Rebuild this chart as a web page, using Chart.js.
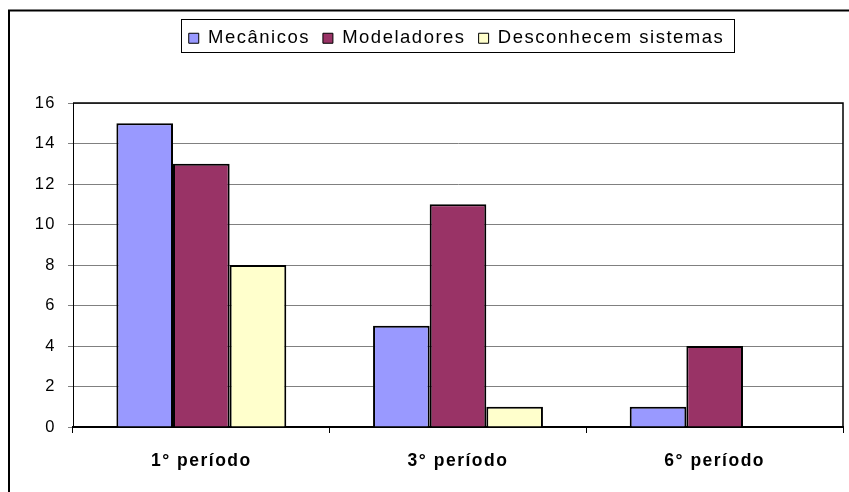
<!DOCTYPE html>
<html><head><meta charset="utf-8">
<script src="https://cdn.jsdelivr.net/npm/chart.js@4"></script>
<style>html,body{margin:0;padding:0;background:#fff;}#wrap{width:849px;height:492px;}</style>
</head><body><div id="wrap"><canvas id="c" width="849" height="492"></canvas></div>
<script>
const categories = ["1° período", "3° período", "6° período"];
const mecanicos = [15, 5, 1];
const modeladores = [13, 11, 4];
const desconhecem = [8, 1, 0];
const seriesNames = ["Mecânicos", "Modeladores", "Desconhecem sistemas"];
const yTicks = [0, 2, 4, 6, 8, 10, 12, 14, 16];

Chart.defaults.font.family = 'Liberation Sans, Arial, sans-serif';

const SPACING = '1.5px';
const frame = {
  id: 'frame',
  afterInit(chart) {
    const lg = chart.legend;
    if (lg) {
      const f = lg.fit.bind(lg);
      lg.fit = function () { f(); this.height += 45.5; };
    }
  },
  beforeUpdate(chart) { chart.ctx.letterSpacing = SPACING; },
  afterLayout(chart) {
    const lg = chart.legend;
    if (lg) { lg.left += 25; lg.right += 25; }
  },
  beforeDraw(chart) {
    const c = chart.ctx;
    c.letterSpacing = SPACING;
    c.save();
    c.fillStyle = '#fff';
    c.fillRect(0, 0, chart.width, chart.height);
    c.strokeStyle = '#000';
    c.lineWidth = 2;
    c.strokeRect(9, 10.5, 900, 600);
    c.restore();
  },
  afterDraw(chart) {
    const c = chart.ctx;
    const a = chart.chartArea;
    c.save();
    c.strokeStyle = '#000';
    c.lineWidth = 1.5;
    c.beginPath();
    c.moveTo(a.left, a.top);
    c.lineTo(a.right, a.top);
    c.lineTo(a.right, a.bottom);
    c.stroke();
    const lg = chart.legend;
    if (lg && lg.lineWidths && lg.lineWidths.length) {
      const rowW = lg.lineWidths[0];
      const cx = (lg.left + lg.right) / 2;
      const x0 = cx - rowW / 2;
      c.lineWidth = 1;
      c.strokeStyle = '#000';
      c.strokeRect(Math.round(x0 - 1) + 0.5, 19.5, Math.round(rowW + 4), 33);
    }
    c.restore();
  }
};

new Chart(document.getElementById('c'), {
  type: 'bar',
  data: {
    labels: categories,
    datasets: [
      { label: seriesNames[0], data: mecanicos, backgroundColor: '#9999FF', borderColor: '#000', borderWidth: 2 },
      { label: seriesNames[1], data: modeladores, backgroundColor: '#993366', borderColor: '#000', borderWidth: 2 },
      { label: seriesNames[2], data: desconhecem, backgroundColor: '#FFFFCC', borderColor: '#000', borderWidth: 2 }
    ]
  },
  options: {
    responsive: false,
    animation: false,
    devicePixelRatio: 1,
    categoryPercentage: 0.662,
    barPercentage: 1,
    layout: { padding: { left: 20, right: 6, top: 16, bottom: 0 } },
    plugins: {
      tooltip: { enabled: false },
      legend: {
        position: 'top',
        labels: {
          font: { size: 18.5 },
          color: '#000',
          boxWidth: 10,
          boxHeight: 10,
          padding: 13,
          generateLabels(chart) {
            return chart.data.datasets.map((d, i) => ({
              text: d.label, fillStyle: d.backgroundColor, strokeStyle: '#000', lineWidth: 1, datasetIndex: i, hidden: false
            }));
          }
        }
      }
    },
    scales: {
      x: {
        offset: true,
        grid: { offset: true, drawOnChartArea: false, drawTicks: true, tickLength: 6, color: '#000' },
        border: { color: '#000', width: 2 },
        ticks: { font: { size: 17.5, weight: 'bold' }, color: '#000', padding: 18 },
        afterFit(s) { s.height = 492 - 427; }
      },
      y: {
        min: 0, max: 16,
        afterBuildTicks(s) { s.ticks = yTicks.map(v => ({ value: v })); },
        grid: { color: '#808080', lineWidth: 1, tickLength: 5, tickColor: '#808080' },
        border: { color: '#000', width: 1 },
        ticks: { font: { size: 16.5 }, color: '#000', padding: 12 },
        afterFit(s) { s.width = 73 - 20; }
      }
    }
  },
  plugins: [frame]
});
</script></body></html>
